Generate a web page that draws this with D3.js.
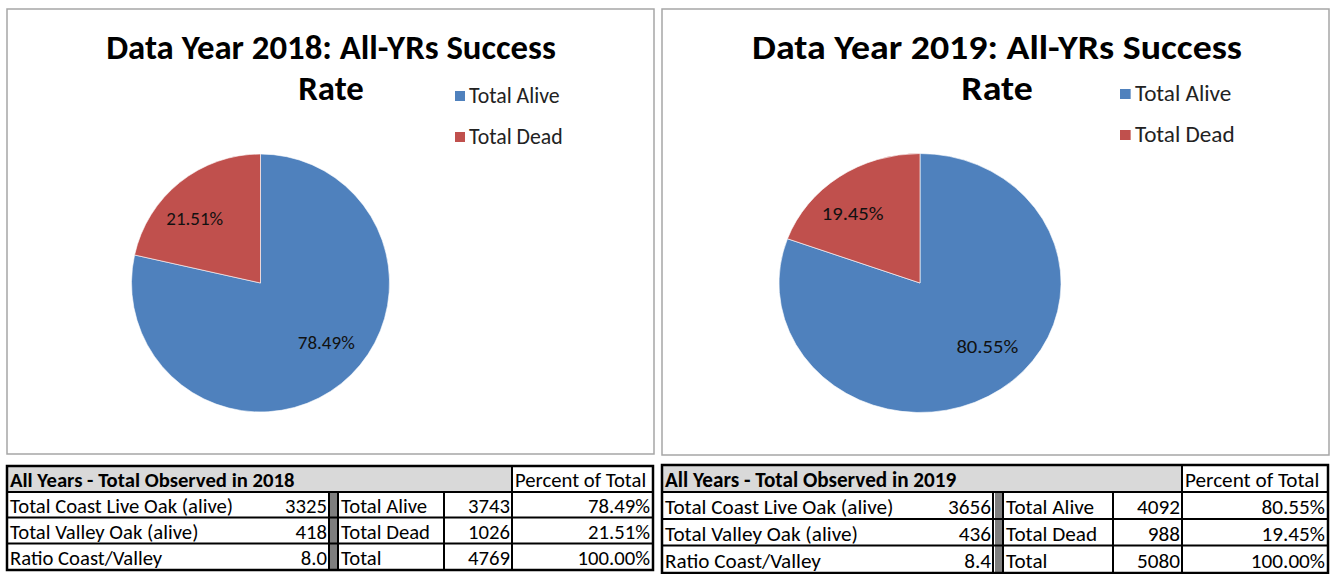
<!DOCTYPE html>
<html>
<head>
<meta charset="utf-8">
<script src="https://cdn.jsdelivr.net/npm/d3@7"></script>
<style>
  body { margin: 0; background: #fff; }
  text { font-family: Carlito, Lato, sans-serif; }
</style>
</head>
<body>
<div id="chart"></div>
<script>
// data
var years = ["2018", "2019"];
var categories = ["Total Alive", "Total Dead"];
var totalAlive = [3743, 4092];
var totalDead = [1026, 988];
var totalAll = [4769, 5080];
var coastLive = [3325, 3656];
var valleyOak = [418, 436];
var ratioCV = ["8.0", "8.4"];
var pctAlive = ["78.49%", "80.55%"];
var pctDead = ["21.51%", "19.45%"];
var colors = ["#4f81bd", "#c0504d"];

// layout of the two panels (the right one is a bit stretched sideways)
var panels = [
  {box: [7, 9, 647, 445], cx: 260.5, cy: 283, r: 129, sx: 1, titleX: 331, titleW: 450, legX: 455, legY: 91, legSx: 1,
   cols: [7, 329, 338, 444, 512, 653], bar: [330, 337], rows: [466, 492, 517.5, 543.5, 570], fs: 20.7},
  {box: [662, 9, 667, 446], cx: 920, cy: 283, r: 129.5, sx: 1.089, titleX: 997, titleW: 490, legX: 1120, legY: 89, legSx: 1.065,
   cols: [662, 993, 1003, 1113, 1182, 1328], bar: [995, 1002], rows: [465, 492, 519, 545.5, 573], fs: 21.2}
];

var svg = d3.select("#chart")
  .append("svg")
    .attr("width", 1330)
    .attr("height", 574);

var pie = d3.pie().sort(null);

panels.forEach(function(p, i) {
  // chart frame
  svg.append("rect")
    .attr("x", p.box[0]).attr("y", p.box[1])
    .attr("width", p.box[2]).attr("height", p.box[3])
    .attr("fill", "#fff")
    .attr("stroke", "#a6a6a6")
    .attr("stroke-width", 1.5);

  // title, sized to the width it has in the picture
  var title = svg.append("g")
    .attr("font-weight", "bold")
    .attr("text-anchor", "middle")
    .attr("transform", "translate(" + p.titleX + ",0) scale(" + p.sx + ",1)");
  var t1 = title.append("text")
    .attr("y", 59)
    .attr("font-size", 30)
    .text("Data Year " + years[i] + ": All-YRs Success");
  var fsTitle = 30 * (p.titleW / p.sx) / t1.node().getComputedTextLength();
  t1.attr("font-size", fsTitle);
  title.append("text")
    .attr("y", 100)
    .attr("font-size", fsTitle)
    .text("Rate");

  // legend
  var leg = svg.append("g")
    .attr("transform", "translate(" + p.legX + "," + p.legY + ") scale(" + p.legSx + ",1)");
  var item = leg.selectAll("g")
    .data(categories)
    .enter()
    .append("g")
      .attr("transform", function(d, j) { return "translate(0," + j * 41 + ")"; });
  item.append("rect")
    .attr("width", 10).attr("height", 10)
    .attr("fill", function(d, j) { return colors[j]; });
  item.append("text")
    .attr("x", 14).attr("y", 12)
    .attr("font-size", 21.8)
    .attr("fill", "#222")
    .text(function(d) { return d; });

  // pie
  var values = [totalAlive[i], totalDead[i]];
  var labels = [pctAlive[i], pctDead[i]];
  var arc = d3.arc().innerRadius(0).outerRadius(p.r);
  var labelPos = function(d) {
    var a = (d.startAngle + d.endAngle) / 2 - 0.14;
    return [Math.sin(a) * p.r * 0.7, -Math.cos(a) * p.r * 0.7 - 3];
  };
  var g = svg.append("g")
    .attr("transform", "translate(" + p.cx + "," + p.cy + ") scale(" + p.sx + ",1)");
  g.selectAll("path")
    .data(pie(values))
    .enter()
    .append("path")
      .attr("d", arc)
      .attr("fill", function(d, j) { return colors[j]; })
      .attr("stroke", "#fff")
      .attr("stroke-width", 0.6);
  g.selectAll(".lbl")
    .data(pie(values))
    .enter()
    .append("text")
      .attr("class", "lbl")
      .attr("transform", function(d) { return "translate(" + labelPos(d) + ")"; })
      .attr("text-anchor", "middle")
      .attr("dy", "0.35em")
      .attr("font-size", 19)
      .attr("fill", "#111")
      .text(function(d, j) { return labels[j]; });

  // table below the chart
  var c = p.cols, r = p.rows;
  var t = svg.append("g").attr("font-size", p.fs);
  t.append("rect")
    .attr("x", c[0]).attr("y", r[0])
    .attr("width", c[4] - c[0]).attr("height", r[1] - r[0])
    .attr("fill", "#d9d9d9");
  t.append("rect")
    .attr("x", p.bar[0]).attr("y", r[1])
    .attr("width", p.bar[1] - p.bar[0]).attr("height", r[4] - r[1])
    .attr("fill", "#7f7f7f");

  var line = function(x1, y1, x2, y2, w) {
    t.append("line")
      .attr("x1", x1).attr("y1", y1).attr("x2", x2).attr("y2", y2)
      .attr("stroke", "#000").attr("stroke-width", w);
  };
  r.slice(1, 4).forEach(function(y) { line(c[0], y, c[5], y, 2); });
  line(c[4], r[0], c[4], r[4], 2);
  line(c[1], r[1], c[1], r[4], 2);
  line(c[2], r[1], c[2], r[4], 2);
  line(c[3], r[1], c[3], r[4], 2);
  t.append("rect")
    .attr("x", c[0]).attr("y", r[0])
    .attr("width", c[5] - c[0]).attr("height", r[4] - r[0])
    .attr("fill", "none")
    .attr("stroke", "#000")
    .attr("stroke-width", 2.5);

  var rowsData = [
    ["Total Coast Live Oak (alive)", coastLive[i], "Total Alive", totalAlive[i], pctAlive[i]],
    ["Total Valley Oak (alive)", valleyOak[i], "Total Dead", totalDead[i], pctDead[i]],
    ["Ratio Coast/Valley", ratioCV[i], "Total", totalAll[i], "100.00%"]
  ];
  var cell = function(x, y, s, anchor, bold) {
    t.append("text")
      .attr("x", x).attr("y", y)
      .attr("text-anchor", anchor)
      .attr("font-weight", bold ? "bold" : null)
      .attr("fill", "#000")
      .text(s);
  };
  var by = function(k) { return r[k + 1] - 5; };
  cell(c[0] + 3, by(0), "All Years - Total Observed in " + years[i], "start", true);
  cell(c[4] + 3, by(0), "Percent of Total", "start", false);
  rowsData.forEach(function(row, k) {
    cell(c[0] + 3, by(k + 1), row[0], "start");
    cell(c[1] - 2, by(k + 1), row[1], "end");
    cell(c[2] + 3, by(k + 1), row[2], "start");
    cell(c[4] - 2, by(k + 1), row[3], "end");
    cell(c[5] - 3, by(k + 1), row[4], "end");
  });
});
</script>
</body>
</html>
